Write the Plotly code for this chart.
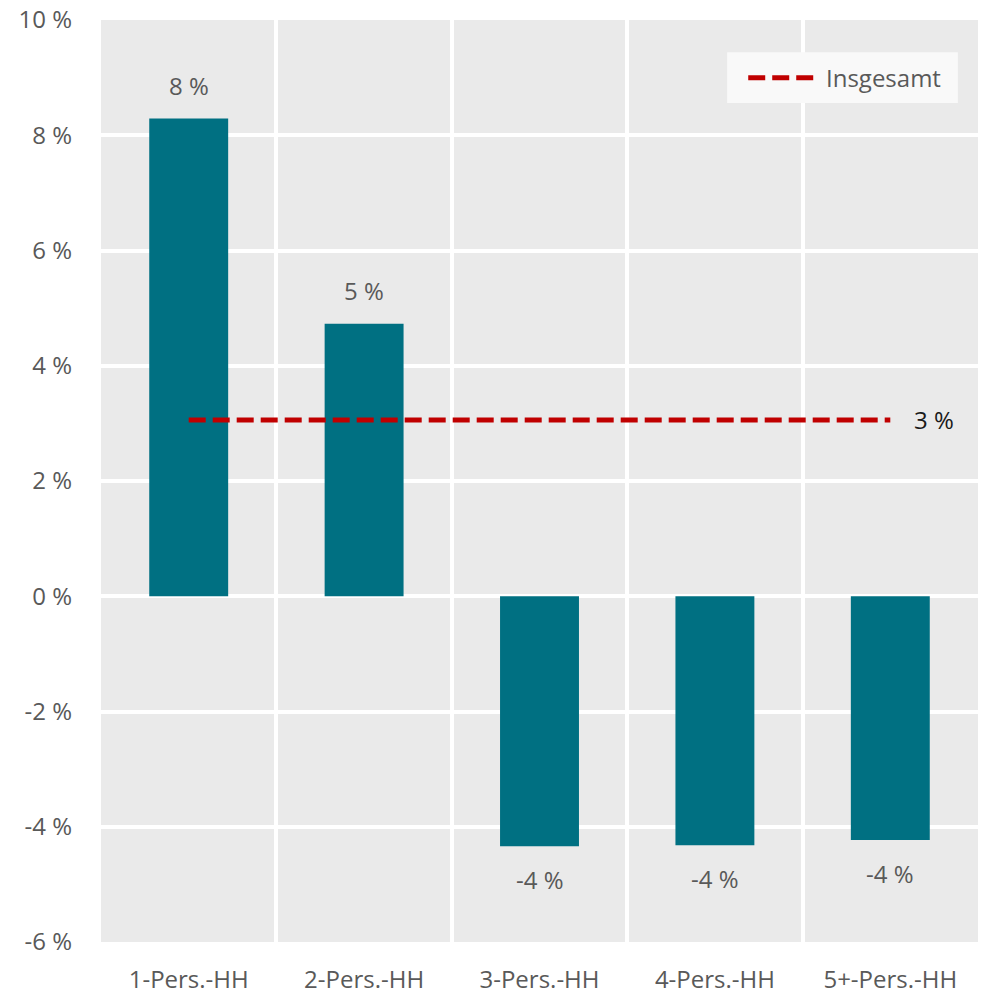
import plotly.graph_objects as go

categories = ["1-Pers.-HH", "2-Pers.-HH", "3-Pers.-HH", "4-Pers.-HH", "5+-Pers.-HH"]
values = [8.29, 4.73, -4.34, -4.32, -4.23]
total_name = "Insgesamt"
total_value = 3.06
y_tickvals = [-6, -4, -2, 0, 2, 4, 6, 8, 10]
y_ticktext = ["-6 %", "-4 %", "-2 %", "0 %", "2 %", "4 %", "6 %", "8 %", "10 %"]

FONT = "Open Sans"
GRAY = "#595959"
BAR = "#007082"
RED = "#C00000"
FS = 24

fig = go.Figure()
fig.add_trace(go.Bar(x=categories, y=values, marker=dict(color=BAR, line=dict(width=0)),
                     width=0.45, showlegend=False, hoverinfo="x+y"))
fig.add_trace(go.Scatter(x=categories, y=[total_value] * len(categories), mode="lines",
                         name=total_name, line=dict(color=RED, width=5, dash="17px,7px"),
                         showlegend=False))

def fmt(v):
    r = int(round(v))
    return f"{r} %"

for c, v in zip(categories, values):
    fig.add_annotation(x=c, y=v, text=fmt(v), showarrow=False,
                       yshift=33 if v >= 0 else -33,
                       font=dict(family=FONT, size=FS, color=GRAY))

fig.add_annotation(x=categories[-1], y=total_value, text=fmt(total_value), showarrow=False,
                   xanchor="left", xshift=22, font=dict(family=FONT, size=FS, color="#1a1a1a"))

# custom legend box (paper coords)
fig.add_shape(type="rect", xref="paper", yref="paper", x0=0.714, x1=0.977, y0=0.910, y1=0.965,
              fillcolor="#F9F9F9", line=dict(width=0), layer="above")
fig.add_shape(type="line", xref="paper", yref="paper", x0=0.738, x1=0.813, y0=0.9375, y1=0.9375,
              line=dict(color=RED, width=5, dash="17px,7px"), layer="above")
fig.add_annotation(xref="paper", yref="paper", x=0.824, y=0.9375, xanchor="left", yanchor="middle",
                   text=total_name, showarrow=False, font=dict(family=FONT, size=FS, color=GRAY))

fig.update_layout(
    width=984, height=995,
    margin=dict(l=101, r=6, t=20, b=53),
    paper_bgcolor="white", plot_bgcolor="#EAEAEA",
    font=dict(family=FONT, size=FS, color=GRAY),
    showlegend=False,
)
fig.update_xaxes(type="category", tickson="boundaries", showgrid=True, gridcolor="white", gridwidth=4,
                 ticks="", ticklen=0, showline=False, zeroline=False, automargin=False,
                 tickfont=dict(family=FONT, size=FS, color=GRAY), ticklabelstandoff=21)
fig.update_yaxes(range=[-6, 10], tickvals=y_tickvals, ticktext=y_ticktext, showgrid=True,
                 gridcolor="white", gridwidth=4, zeroline=False, showline=False, ticks="",
                 ticklabeloverflow="allow", automargin=False,
                 tickfont=dict(family=FONT, size=FS, color=GRAY), ticklabelstandoff=28)

fig.write_html("out.html", config={"displayModeBar": False},
               post_script="document.body.style.margin='0';")
